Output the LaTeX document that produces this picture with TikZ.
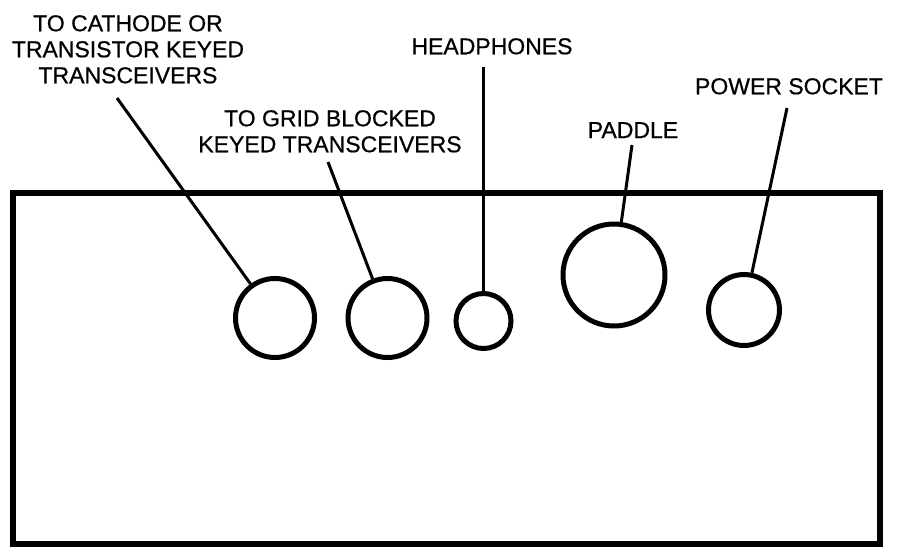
\documentclass[tikz,border=0pt]{standalone}
\usepackage{fontspec}
\setmainfont{Liberation Sans}[FakeBold=0.6]
\begin{document}
\begin{tikzpicture}[x=1pt,y=-1pt,
  label/.style={inner sep=0pt,font=\fontsize{23}{26}\selectfont},
  jack/.style={circle,draw,line width=5pt,inner sep=0pt},
  leader/.style={line width=3pt}]
\useasboundingbox (0,0) rectangle (897,552);
% front panel
\draw[line width=6pt] (13,193) rectangle (880,544);
% sockets
\node[jack,minimum size=79pt]  (c1) at (275,318) {};
\node[jack,minimum size=79pt]  (c2) at (387.5,318) {};
\node[jack,minimum size=55pt]  (c3) at (483.5,321) {};
\node[jack,minimum size=102pt] (c4) at (614,275) {};
\node[jack,minimum size=71pt]  (c5) at (744,310) {};
% labels
\node[label,anchor=north,align=center] (t1) at (128,15)
  {TO CATHODE OR\\TRANSISTOR KEYED\\TRANSCEIVERS};
\node[label,anchor=north,align=center] (t2) at (330,110)
  {TO GRID BLOCKED\\KEYED TRANSCEIVERS};
\node[label,anchor=north] (t3) at (492,38) {HEADPHONES};
\node[label,anchor=north] (t4) at (633,122) {PADDLE};
\node[label,anchor=north] (t5) at (789,78) {POWER SOCKET};
% leader line ends below the labels
\coordinate (e1) at (117,98);
\coordinate (e2) at (328,162);
\coordinate (e3) at (483.5,67);
\coordinate (e4) at (632,145);
\coordinate (e5) at (787,108);
\draw[leader] (e1) -- (c1);
\draw[leader] (e2) -- (c2);
\draw[leader] (e3) -- (c3);
\draw[leader] (e4) -- (c4);
\draw[leader] (e5) -- (c5);
\end{tikzpicture}
\end{document}
